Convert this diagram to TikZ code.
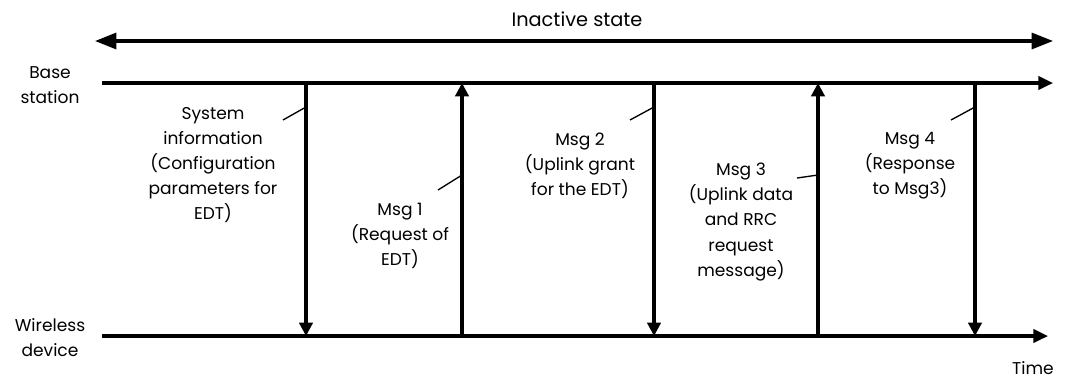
\documentclass[tikz,border=0pt]{standalone}
\usepackage{fontspec}
\setmainfont{Poppins}
\usetikzlibrary{arrows.meta}
\tikzset{
  timeline/.style={line width=2.3pt,-{Triangle[length=11pt,width=10pt]}},
  msgarrow/.style={line width=2.3pt,-{Triangle[length=10pt,width=10pt]}},
  leader/.style={line width=1pt},
  msgtext/.style={align=center,font=\fontsize{12.8}{18.8}\selectfont,inner sep=0pt},
  partytext/.style={align=center,font=\fontsize{12.8}{18.8}\selectfont,inner sep=0pt}
}
\begin{document}
\begin{tikzpicture}[x=0.75pt,y=-0.75pt]
  \useasboundingbox (0,0) rectangle (1073,380);

  % inactive state
  \coordinate (inL) at (95,41);
  \coordinate (inR) at (1053,41);
  \draw [line width=2.3pt,{Triangle[length=16pt,width=12pt]}-{Triangle[length=16pt,width=12pt]}] (inL) -- (inR);
  \node [msgtext,font=\fontsize{14.5}{18.8}\selectfont] (inactive) at (577,19) {Inactive state};

  % time lines
  \coordinate (bsL) at (102,83);
  \coordinate (bsR) at (1053,83);
  \coordinate (wdL) at (102,336);
  \coordinate (wdR) at (1048,336);
  \draw [timeline] (bsL) -- (bsR);
  \draw [timeline] (wdL) -- (wdR);
  \node [partytext] (bs) at (50,85) {Base\\station};
  \node [partytext] (wd) at (50,338) {Wireless\\device};
  \node [msgtext] (time) at (1033,368) {Time};

  % messages
  \foreach \n/\x in {0/306,1/462,2/654,3/818,4/975}{
    \coordinate (top\n) at (\x,83);
    \coordinate (bot\n) at (\x,336);
  }
  \draw [msgarrow] (top0) -- (bot0);
  \draw [msgarrow] (bot1) -- (top1);
  \draw [msgarrow] (top2) -- (bot2);
  \draw [msgarrow] (bot3) -- (top3);
  \draw [msgarrow] (top4) -- (bot4);

  \node [msgtext] (sysinfo) at (213,165) {System\\information\\(Configuration\\parameters for\\EDT)};
  \node [msgtext] (msg1) at (400,236) {Msg 1\\(Request of\\EDT)};
  \node [msgtext] (msg2) at (580,166) {Msg 2\\(Uplink grant\\for the EDT)};
  \node [msgtext] (msg3) at (741,222) {Msg 3\\(Uplink data\\and RRC\\request\\message)};
  \node [msgtext] (msg4) at (910,166) {Msg 4\\(Response\\to Msg3)};

  \coordinate (l0a) at (283,120); \coordinate (l0b) at (306,107);
  \coordinate (l1a) at (438,190); \coordinate (l1b) at (462,175);
  \coordinate (l2a) at (630,120); \coordinate (l2b) at (654,107);
  \coordinate (l3a) at (797,178); \coordinate (l3b) at (818,175);
  \coordinate (l4a) at (951,120); \coordinate (l4b) at (975,107);
  \foreach \n in {0,...,4}
    \draw [leader] (l\n a) -- (l\n b);
\end{tikzpicture}
\end{document}
